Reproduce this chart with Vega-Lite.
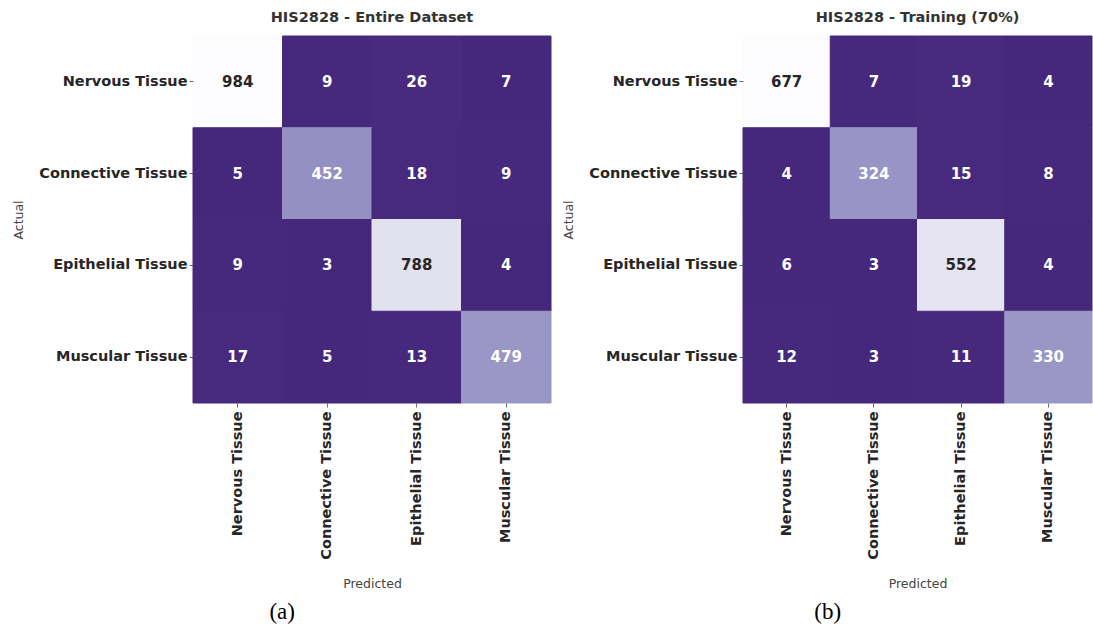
{
  "$schema": "https://vega.github.io/schema/vega-lite/v6.json",
  "background": "white",
  "padding": {"left": 12, "top": 10, "right": 0, "bottom": 0},
  "spacing": 10,
  "resolve": {"scale": {"color": "independent", "stroke": "independent"}},
  "config": {
    "view": {"stroke": null},
    "font": "DejaVu Sans",
    "axis": {
      "domain": false,
      "tickColor": "#444444",
      "tickSize": 4,
      "tickWidth": 0.8,
      "labelFont": "DejaVu Sans",
      "labelFontSize": 14.5,
      "labelFontWeight": "bold",
      "labelColor": "#262626",
      "labelPadding": 2,
      "titleFont": "DejaVu Sans",
      "titleFontSize": 12.5,
      "titleFontWeight": "normal",
      "titleColor": "#444444"
    },
    "axisX": {"labelAngle": -90, "labelPadding": 4, "titlePadding": 18},
    "axisY": {"titlePadding": 13},
    "title": {"font": "DejaVu Sans", "fontSize": 14.5, "fontWeight": "bold", "color": "#333333", "anchor": "middle", "offset": 10}
  },
  "datasets": {
    "entire": [
      {"actual": "Nervous Tissue", "predicted": "Nervous Tissue", "count": 984},
      {"actual": "Nervous Tissue", "predicted": "Connective Tissue", "count": 9},
      {"actual": "Nervous Tissue", "predicted": "Epithelial Tissue", "count": 26},
      {"actual": "Nervous Tissue", "predicted": "Muscular Tissue", "count": 7},
      {"actual": "Connective Tissue", "predicted": "Nervous Tissue", "count": 5},
      {"actual": "Connective Tissue", "predicted": "Connective Tissue", "count": 452},
      {"actual": "Connective Tissue", "predicted": "Epithelial Tissue", "count": 18},
      {"actual": "Connective Tissue", "predicted": "Muscular Tissue", "count": 9},
      {"actual": "Epithelial Tissue", "predicted": "Nervous Tissue", "count": 9},
      {"actual": "Epithelial Tissue", "predicted": "Connective Tissue", "count": 3},
      {"actual": "Epithelial Tissue", "predicted": "Epithelial Tissue", "count": 788},
      {"actual": "Epithelial Tissue", "predicted": "Muscular Tissue", "count": 4},
      {"actual": "Muscular Tissue", "predicted": "Nervous Tissue", "count": 17},
      {"actual": "Muscular Tissue", "predicted": "Connective Tissue", "count": 5},
      {"actual": "Muscular Tissue", "predicted": "Epithelial Tissue", "count": 13},
      {"actual": "Muscular Tissue", "predicted": "Muscular Tissue", "count": 479}
    ],
    "training": [
      {"actual": "Nervous Tissue", "predicted": "Nervous Tissue", "count": 677},
      {"actual": "Nervous Tissue", "predicted": "Connective Tissue", "count": 7},
      {"actual": "Nervous Tissue", "predicted": "Epithelial Tissue", "count": 19},
      {"actual": "Nervous Tissue", "predicted": "Muscular Tissue", "count": 4},
      {"actual": "Connective Tissue", "predicted": "Nervous Tissue", "count": 4},
      {"actual": "Connective Tissue", "predicted": "Connective Tissue", "count": 324},
      {"actual": "Connective Tissue", "predicted": "Epithelial Tissue", "count": 15},
      {"actual": "Connective Tissue", "predicted": "Muscular Tissue", "count": 8},
      {"actual": "Epithelial Tissue", "predicted": "Nervous Tissue", "count": 6},
      {"actual": "Epithelial Tissue", "predicted": "Connective Tissue", "count": 3},
      {"actual": "Epithelial Tissue", "predicted": "Epithelial Tissue", "count": 552},
      {"actual": "Epithelial Tissue", "predicted": "Muscular Tissue", "count": 4},
      {"actual": "Muscular Tissue", "predicted": "Nervous Tissue", "count": 12},
      {"actual": "Muscular Tissue", "predicted": "Connective Tissue", "count": 3},
      {"actual": "Muscular Tissue", "predicted": "Epithelial Tissue", "count": 11},
      {"actual": "Muscular Tissue", "predicted": "Muscular Tissue", "count": 330}
    ]
  },
  "hconcat": [
    {
      "title": {"text": "(a)", "orient": "bottom", "font": "Liberation Serif", "fontSize": 23, "fontWeight": "normal", "color": "#000000", "offset": 11},
      "vconcat": [
        {
          "title": {"text": "HIS2828 - Entire Dataset"},
          "width": 358,
          "height": 367,
          "data": {"name": "entire"},
          "encoding": {
            "x": {"field": "predicted", "type": "nominal", "sort": ["Nervous Tissue", "Connective Tissue", "Epithelial Tissue", "Muscular Tissue"], "title": "Predicted", "scale": {"paddingInner": 0, "paddingOuter": 0}},
            "y": {"field": "actual", "type": "nominal", "sort": ["Nervous Tissue", "Connective Tissue", "Epithelial Tissue", "Muscular Tissue"], "title": "Actual", "scale": {"paddingInner": 0, "paddingOuter": 0}}
          },
          "layer": [
            {
              "mark": {"type": "rect", "strokeWidth": 1},
              "encoding": {
                "color": {"field": "count", "type": "quantitative", "scale": {"type": "linear", "interpolate": "rgb", "domain": [3, 125.6, 248.3, 370.9, 493.5, 616.1, 738.8, 861.4, 984], "range": ["#45277b", "#53378e", "#6a51a3", "#807dba", "#9e9ac8", "#bcbddc", "#dadaeb", "#efedf5", "#fcfbfd"]}, "legend": null},
                "stroke": {"field": "count", "type": "quantitative", "scale": {"type": "linear", "interpolate": "rgb", "domain": [3, 125.6, 248.3, 370.9, 493.5, 616.1, 738.8, 861.4, 984], "range": ["#45277b", "#53378e", "#6a51a3", "#807dba", "#9e9ac8", "#bcbddc", "#dadaeb", "#efedf5", "#fcfbfd"]}, "legend": null}
              }
            },
            {
              "mark": {"type": "text", "fontSize": 15, "fontWeight": "bold", "font": "DejaVu Sans"},
              "encoding": {
                "text": {"field": "count", "type": "quantitative"},
                "color": {"condition": {"test": "datum.count > 600", "value": "#262626"}, "value": "#ffffff"}
              }
            }
          ]
        }
      ]
    },
    {
      "title": {"text": "(b)", "orient": "bottom", "font": "Liberation Serif", "fontSize": 23, "fontWeight": "normal", "color": "#000000", "offset": 11},
      "vconcat": [
        {
          "title": {"text": "HIS2828 - Training (70%)"},
          "width": 349,
          "height": 367,
          "data": {"name": "training"},
          "encoding": {
            "x": {"field": "predicted", "type": "nominal", "sort": ["Nervous Tissue", "Connective Tissue", "Epithelial Tissue", "Muscular Tissue"], "title": "Predicted", "scale": {"paddingInner": 0, "paddingOuter": 0}},
            "y": {"field": "actual", "type": "nominal", "sort": ["Nervous Tissue", "Connective Tissue", "Epithelial Tissue", "Muscular Tissue"], "title": "Actual", "scale": {"paddingInner": 0, "paddingOuter": 0}}
          },
          "layer": [
            {
              "mark": {"type": "rect", "strokeWidth": 1},
              "encoding": {
                "color": {"field": "count", "type": "quantitative", "scale": {"type": "linear", "interpolate": "rgb", "domain": [3, 87.25, 171.5, 255.75, 340, 424.25, 508.5, 592.75, 677], "range": ["#45277b", "#53378e", "#6a51a3", "#807dba", "#9e9ac8", "#bcbddc", "#dadaeb", "#efedf5", "#fcfbfd"]}, "legend": null},
                "stroke": {"field": "count", "type": "quantitative", "scale": {"type": "linear", "interpolate": "rgb", "domain": [3, 87.25, 171.5, 255.75, 340, 424.25, 508.5, 592.75, 677], "range": ["#45277b", "#53378e", "#6a51a3", "#807dba", "#9e9ac8", "#bcbddc", "#dadaeb", "#efedf5", "#fcfbfd"]}, "legend": null}
              }
            },
            {
              "mark": {"type": "text", "fontSize": 15, "fontWeight": "bold", "font": "DejaVu Sans"},
              "encoding": {
                "text": {"field": "count", "type": "quantitative"},
                "color": {"condition": {"test": "datum.count > 450", "value": "#262626"}, "value": "#ffffff"}
              }
            }
          ]
        }
      ]
    }
  ]
}
